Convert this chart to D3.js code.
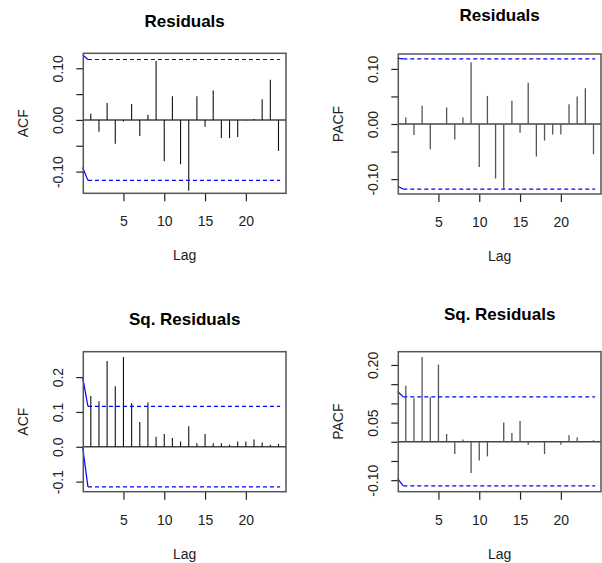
<!DOCTYPE html>
<html>
<head>
<meta charset="utf-8">
<script src="https://cdn.jsdelivr.net/npm/d3@7"></script>
<style>
  body { margin: 0; background: #fff; }
  svg { display: block; font-family: "Liberation Sans", Arial, sans-serif; }
</style>
</head>
<body>
<div id="chart"></div>
<script>
// lags shown on every panel
const lags = [1, 2, 3, 4, 5, 6, 7, 8, 9, 10, 11, 12, 13, 14, 15, 16, 17, 18, 19, 20, 21, 22, 23, 24];
const xTicks = [5, 10, 15, 20];

// correlations
const residAcf = [0.012, -0.023, 0.033, -0.046, -0.003, 0.031, -0.031, 0.010, 0.114, -0.080, 0.046, -0.086,
  -0.137, 0.046, -0.013, 0.057, -0.035, -0.035, -0.033, -0.001, 0.002, 0.040, 0.078, -0.060];
const residPacf = [0.012, -0.020, 0.033, -0.046, -0.001, 0.030, -0.028, 0.012, 0.112, -0.078, 0.051, -0.099,
  -0.117, 0.042, -0.016, 0.075, -0.059, -0.030, -0.019, -0.019, 0.036, 0.050, 0.065, -0.055];
const sqResidAcf = [0.146, 0.131, 0.246, 0.174, 0.258, 0.125, 0.071, 0.127, 0.029, 0.037, 0.025, 0.015,
  0.059, 0.010, 0.037, 0.010, 0.010, 0.006, 0.015, 0.015, 0.021, 0.012, 0.006, 0.008];
const sqResidPacf = [0.146, 0.113, 0.221, 0.116, 0.201, 0.020, -0.032, 0.006, -0.081, -0.049, -0.038, 0.000,
  0.050, 0.023, 0.054, -0.008, 0.000, -0.032, 0.000, -0.008, 0.017, 0.011, 0.000, 0.004];

// confidence bounds as [lag, value]; first piece solid, the rest dashed
const residAcfCiUpper = [[0, 0.126], [0.65, 0.117], [24.2, 0.117]];
const residAcfCiLower = [[0, -0.092], [0.65, -0.117], [24.2, -0.117]];
const residPacfCiUpper = [[0, 0.119], [0.69, 0.118], [24.2, 0.118]];
const residPacfCiLower = [[0, -0.113], [0.69, -0.118], [24.2, -0.118]];
const sqAcfCiUpper = [[0, 0.200], [0.65, 0.116], [24.2, 0.116]];
const sqAcfCiLower = [[0, 0.000], [0.65, -0.115], [24.2, -0.115]];
const sqPacfCiUpper = [[0, 0.131], [0.69, 0.117], [24.2, 0.117]];
const sqPacfCiLower = [[0, -0.096], [0.69, -0.115], [24.2, -0.115]];

// y ticks and their labels (R drops labels that would overlap)
const residTicks = [-0.10, -0.05, 0, 0.05, 0.10];
const residLabels = ["-0.10", "", "0.00", "", "0.10"];
const sqAcfTicks = [-0.1, 0, 0.1, 0.2];
const sqAcfLabels = ["-0.1", "0.0", "0.1", "0.2"];
const sqPacfTicks = [-0.10, -0.05, 0, 0.05, 0.10, 0.15, 0.20];
const sqPacfLabels = ["-0.10", "", "", "0.05", "", "", "0.20"];

const W = 602, H = 563;

const svg = d3.select("#chart").append("svg")
  .attr("width", W)
  .attr("height", H);

function drawPanel(p) {
  const g = svg.append("g");

  const x = d3.scaleLinear().domain([0.08, 24.92]).range([p.left, p.right]);
  const y = d3.scaleLinear().domain(p.yDomain).range([p.bottom, p.top]);

  // title
  g.append("text")
    .attr("x", (p.left + p.right) / 2 + p.titleShift)
    .attr("y", p.titleY)
    .attr("text-anchor", "middle")
    .attr("font-size", 17)
    .attr("font-weight", "bold")
    .text(p.title);

  // y axis
  const yAxis = g.append("g")
    .attr("transform", `translate(${p.left},0)`)
    .call(d3.axisLeft(y).tickValues(p.yTicks).tickSize(7).tickSizeOuter(0)
      .tickFormat((d, i) => p.yLabels[i]));
  yAxis.select(".domain").remove();
  yAxis.selectAll(".tick line").attr("stroke", "#222").attr("stroke-width", 1.2);
  yAxis.selectAll(".tick text")
    .attr("x", null).attr("dy", null)
    .attr("text-anchor", "middle")
    .attr("transform", "translate(-20,0) rotate(-90)")
    .attr("font-size", 14)
    .attr("font-family", "Liberation Sans, Arial, sans-serif")
    .attr("fill", "#222");

  // x axis
  const xAxis = g.append("g")
    .attr("transform", `translate(0,${p.bottom})`)
    .call(d3.axisBottom(x).tickValues(xTicks).tickSize(8).tickSizeOuter(0));
  xAxis.select(".domain").remove();
  xAxis.selectAll(".tick line").attr("stroke", "#222").attr("stroke-width", 1.2);
  xAxis.selectAll(".tick text")
    .attr("y", 33).attr("dy", null)
    .attr("font-size", 14)
    .attr("font-family", "Liberation Sans, Arial, sans-serif")
    .attr("fill", "#222");

  // axis titles
  g.append("text")
    .attr("x", (p.left + p.right) / 2 + p.titleShift)
    .attr("y", p.bottom + 67)
    .attr("text-anchor", "middle")
    .attr("font-size", 14)
    .attr("fill", "#222")
    .text("Lag");

  g.append("text")
    .attr("transform", `translate(${p.left - 55},${(p.top + p.bottom) / 2}) rotate(-90)`)
    .attr("text-anchor", "middle")
    .attr("font-size", 14)
    .attr("fill", "#222")
    .text(p.yTitle);

  // zero line
  g.append("line")
    .attr("x1", p.left).attr("x2", p.right)
    .attr("y1", y(0)).attr("y2", y(0))
    .attr("stroke", "#444")
    .attr("stroke-width", 1.5);

  // spikes
  g.selectAll(".spike")
    .data(lags.map((l, i) => ({ lag: l, v: p.values[i] })))
    .enter()
    .append("line")
    .attr("class", "spike")
    .attr("x1", d => x(d.lag)).attr("x2", d => x(d.lag))
    .attr("y1", y(0)).attr("y2", d => y(d.v))
    .attr("stroke", p.spikeColor)
    .attr("stroke-width", p.spikeWidth);

  // confidence bounds
  [p.ciUpper, p.ciLower].forEach(ci => {
    g.append("line")
      .attr("x1", x(ci[0][0])).attr("y1", y(ci[0][1]))
      .attr("x2", x(ci[1][0])).attr("y2", y(ci[1][1]))
      .attr("stroke", "#0000ff")
      .attr("stroke-width", 1.2);
    g.append("line")
      .attr("x1", x(ci[1][0])).attr("y1", y(ci[1][1]))
      .attr("x2", x(ci[2][0])).attr("y2", y(ci[2][1]))
      .attr("stroke", "#0000ff")
      .attr("stroke-width", 1.2)
      .attr("stroke-dasharray", "4,3");
  });

  // frame
  g.append("rect")
    .attr("x", p.left).attr("y", p.top)
    .attr("width", p.right - p.left)
    .attr("height", p.bottom - p.top)
    .attr("fill", "none")
    .attr("stroke", "#555")
    .attr("stroke-width", 1.5);
}

drawPanel({
  title: "Residuals", titleY: 27, titleShift: 0, yTitle: "ACF",
  left: 83.3, right: 286, top: 53.3, bottom: 193.3,
  yDomain: [-0.142, 0.129], yTicks: residTicks, yLabels: residLabels,
  values: residAcf, ciUpper: residAcfCiUpper, ciLower: residAcfCiLower,
  spikeColor: "#111", spikeWidth: 1.1
});

drawPanel({
  title: "Residuals", titleY: 21, titleShift: 0, yTitle: "PACF",
  left: 398.3, right: 601, top: 54, bottom: 194,
  yDomain: [-0.127, 0.127], yTicks: residTicks, yLabels: residLabels,
  values: residPacf, ciUpper: residPacfCiUpper, ciLower: residPacfCiLower,
  spikeColor: "#555", spikeWidth: 1.3
});

drawPanel({
  title: "Sq. Residuals", titleY: 325, titleShift: 0, yTitle: "ACF",
  left: 83.3, right: 286, top: 351.7, bottom: 491.7,
  yDomain: [-0.129, 0.273], yTicks: sqAcfTicks, yLabels: sqAcfLabels,
  values: sqResidAcf, ciUpper: sqAcfCiUpper, ciLower: sqAcfCiLower,
  spikeColor: "#111", spikeWidth: 1.1
});

drawPanel({
  title: "Sq. Residuals", titleY: 319.5, titleShift: 0, yTitle: "PACF",
  left: 398.3, right: 601, top: 351.7, bottom: 491.7,
  yDomain: [-0.130, 0.2345], yTicks: sqPacfTicks, yLabels: sqPacfLabels,
  values: sqResidPacf, ciUpper: sqPacfCiUpper, ciLower: sqPacfCiLower,
  spikeColor: "#555", spikeWidth: 1.3
});
</script>
</body>
</html>
